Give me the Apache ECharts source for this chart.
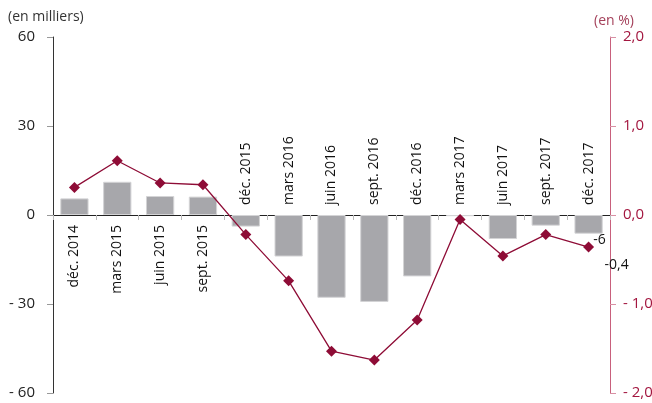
<!DOCTYPE html>
<html><head><meta charset="utf-8">
<script src="https://cdn.jsdelivr.net/npm/echarts@6/dist/echarts.min.js"></script>
<style>html,body{margin:0;padding:0;background:#fff}#c{width:652px;height:403px}</style>
</head><body><div id="c"></div>
<script>
const categories = ['déc. 2014','mars 2015','juin 2015','sept. 2015','déc. 2015','mars 2016','juin 2016','sept. 2016','déc. 2016','mars 2017','juin 2017','sept. 2017','déc. 2017'];
const barValues = [5.6, 11.2, 6.4, 6.2, -3.9, -14.0, -27.9, -29.3, -20.7, -0.4, -8.1, -3.6, -6.3];
const lineValues = [0.31, 0.61, 0.36, 0.34, -0.22, -0.74, -1.53, -1.63, -1.18, -0.05, -0.46, -0.22, -0.36];
const lastBarLabel = '-6';
const lastLineLabel = '-0,4';

const FONT = '"Open Sans", sans-serif';
const RED = '#8e0c36';
const last = categories.length - 1;
const GRID_H = 403 - 37 - 10;
const ZERO_OFFSET = -GRID_H / 2;

const chart = echarts.init(document.getElementById('c'), null, {renderer: 'canvas'});
const fmtLeft = v => v < 0 ? '- ' + Math.abs(v) : String(v);
const fmtRight = v => (v < 0 ? '- ' : '') + Math.abs(v).toFixed(1).replace('.', ',');

chart.setOption({
  animation: false,
  grid: {left: 53, right: 42, top: 37, bottom: 10, containLabel: false, outerBoundsMode: 'none'},
  graphic: [
    {type: 'text', left: 8, top: 10, style: {text: '(en milliers)', font: '14px ' + FONT, fill: '#333'}},
    {type: 'text', left: 594, top: 14, style: {text: '(en %)', font: '14px ' + FONT, fill: '#a4405a'}}
  ],
  xAxis: [
    {
      type: 'category', data: categories, position: 'bottom', offset: ZERO_OFFSET,
      axisLine: {onZero: false, lineStyle: {color: '#222', width: 1}},
      axisTick: {show: true, length: 5, lineStyle: {color: '#bbb'}},
      axisLabel: {rotate: 90, interval: 0, margin: 10, color: '#111', fontSize: 14, fontFamily: FONT,
        formatter: (v, i) => i < 4 ? v : ''}
    },
    {
      type: 'category', data: categories, position: 'bottom', offset: ZERO_OFFSET,
      axisLine: {show: false, onZero: false},
      axisTick: {show: false},
      axisLabel: {rotate: 90, inside: true, interval: 0, margin: 10, color: '#111', fontSize: 14, fontFamily: FONT,
        formatter: (v, i) => i >= 4 ? v : ''}
    }
  ],
  yAxis: [
    {
      type: 'value', min: -60, max: 60, interval: 30, position: 'left',
      axisLine: {show: true, lineStyle: {color: '#333'}},
      axisTick: {show: true, length: 6, lineStyle: {color: '#999'}},
      splitLine: {show: false},
      axisLabel: {color: '#222', fontSize: 15, fontFamily: FONT, margin: 18, formatter: fmtLeft}
    },
    {
      type: 'value', min: -2, max: 2, interval: 1, position: 'right',
      axisLine: {show: true, lineStyle: {color: '#c8607c'}},
      axisTick: {show: true, length: 6, lineStyle: {color: '#d890a4'}},
      splitLine: {show: false},
      axisLabel: {color: '#a3163f', fontSize: 15, fontFamily: FONT, margin: 13, formatter: fmtRight}
    }
  ],
  series: [
    {
      type: 'bar', xAxisIndex: 0, yAxisIndex: 0, barCategoryGap: '34%',
      itemStyle: {color: '#a7a7ab', borderColor: '#d4d4d6', borderWidth: 1},
      data: barValues.map((v, i) => i === last ? {value: v, label: {show: true, position: 'bottom', formatter: lastBarLabel, color: '#111', fontSize: 14, fontFamily: FONT, offset: [11, -6]}} : v)
    },
    {
      type: 'line', xAxisIndex: 0, yAxisIndex: 1,
      symbol: 'diamond', symbolSize: 11, z: 5,
      lineStyle: {color: RED, width: 1.3},
      itemStyle: {color: RED},
      data: lineValues.map((v, i) => i === last ? {value: v, label: {show: true, position: 'bottom', formatter: lastLineLabel, color: '#111', fontSize: 14, fontFamily: FONT, offset: [28, 0]}} : v)
    }
  ]
});
</script></body></html>
